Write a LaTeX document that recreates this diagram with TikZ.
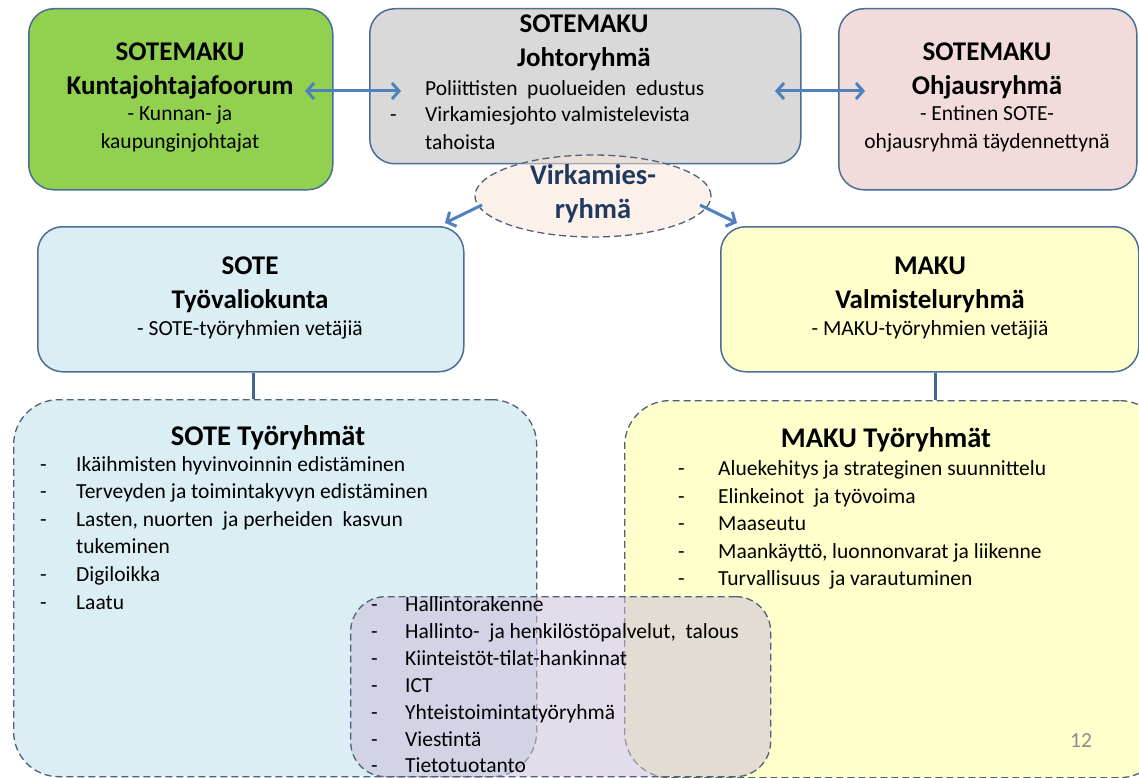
\documentclass[tikz,border=0pt]{standalone}
\usepackage{fontspec}
\setmainfont{Carlito}
\usetikzlibrary{arrows.meta,shapes.geometric}
\definecolor{cgreen}{HTML}{92D050}
\definecolor{cgray}{HTML}{D9D9D9}
\definecolor{cpink}{HTML}{F2DCDB}
\definecolor{cblue}{HTML}{DAEEF3}
\definecolor{cyellow}{HTML}{FFFFCC}
\definecolor{clav}{HTML}{CCC0DA}
\definecolor{cpeach}{HTML}{FBE5D6}
\definecolor{cborder}{HTML}{4A6E98}
\definecolor{cdash}{HTML}{4F6079}
\definecolor{carrow}{HTML}{4F81BD}
\definecolor{cnavy}{HTML}{1F3A60}
\begin{document}
\begin{tikzpicture}[x=1pt,y=-1pt,
  box/.style={draw=cborder, line width=1.5pt, rounded corners=25pt, anchor=north west, inner sep=0pt, shape=rectangle},
  dbox/.style={draw=cdash, line width=1.3pt, dash pattern=on 7pt off 4pt, anchor=north west, inner sep=0pt, shape=rectangle},
  ttl/.style={font=\bfseries\fontsize{27}{31}\selectfont, text height=18pt, text depth=5pt, inner sep=0pt},
  bttl/.style={font=\bfseries\fontsize{28.5}{32}\selectfont, text height=19pt, text depth=5pt, inner sep=0pt},
  txt/.style={font=\fontsize{21.5}{25}\selectfont, text height=15pt, text depth=4pt, inner sep=0pt},
  itm/.style={txt, anchor=west},
  arr/.style={draw=carrow, line width=3pt, {Straight Barb[length=7pt,width=16pt]}-{Straight Barb[length=7pt,width=16pt]}},
  sarr/.style={draw=carrow, line width=3pt, -{Straight Barb[length=7pt,width=16pt]}},
  link/.style={draw=carrow!80!black, line width=3pt}
]
\useasboundingbox (0,0) rectangle (1139,778);
\clip (0,0) rectangle (1139,778);
\fill[white] (0,0) rectangle (1139,778);

% top row
\node[box, fill=cgreen, minimum width=304pt, minimum height=181pt] (green) at (28,8) {};
\node[box, fill=cgray, minimum width=431pt, minimum height=155pt] (gray) at (369,8) {};
\node[box, fill=cpink, minimum width=298pt, minimum height=181pt] (pink) at (838,8) {};

\node[ttl] (g1) at (180,54) {SOTEMAKU};
\node[ttl] (g2) at (180,88) {Kuntajohtajafoorum};
\node[txt] (g3) at (180,115) {- Kunnan- ja};
\node[txt] (g4) at (180,143) {kaupunginjohtajat};

\node[ttl] (j1) at (584,26) {SOTEMAKU};
\node[ttl] (j2) at (584,60) {Johtoryhmä};
\node[itm] (j3) at (425,90) {Poliittisten\ \ puolueiden\ \ edustus};
\node[itm] (j4d) at (390,116) {-};
\node[itm] (j4) at (425,116) {Virkamiesjohto valmistelevista};
\node[itm] (j5) at (425,144) {tahoista};

\node[ttl] (p1) at (987,54) {SOTEMAKU};
\node[ttl] (p2) at (987,88) {Ohjausryhmä};
\node[txt] (p3) at (987,115) {- Entinen SOTE-};
\node[txt] (p4) at (987,143) {ohjausryhmä täydennettynä};

% ellipse
\node[ellipse, draw=cdash, line width=1.3pt, dash pattern=on 7pt off 4pt, fill=cpeach, fill opacity=0.5, text opacity=1, minimum width=236pt, minimum height=82pt, inner sep=0pt] (virk) at (593,196) {};
\node[bttl, text=cnavy] (v1) at (593,178) {Virkamies-};
\node[bttl, text=cnavy] (v2) at (593,211) {ryhmä};

% middle row
\node[box, fill=cblue, minimum width=426pt, minimum height=145pt] (sote) at (37,226) {};
\node[box, fill=cyellow, minimum width=418pt, minimum height=145pt] (maku) at (720,226) {};

\node[ttl] (s1) at (250,268) {SOTE};
\node[ttl] (s2) at (250,302) {Työvaliokunta};
\node[txt] (s3) at (250,330) {- SOTE-työryhmien vetäjiä};

\node[ttl] (m1) at (930,268) {MAKU};
\node[ttl] (m2) at (930,302) {Valmisteluryhmä};
\node[txt] (m3) at (930,330) {- MAKU-työryhmien vetäjiä};

% bottom boxes
\node[dbox, fill=cblue, rounded corners=45pt, minimum width=523pt, minimum height=377pt] (sotetr) at (13,399) {};
\node[dbox, fill=cyellow, rounded corners=45pt, minimum width=540pt, minimum height=377pt] (makutr) at (624,400) {};

% connectors
\coordinate (a1l) at (305,91);
\coordinate (a1r) at (401,91);
\coordinate (a2l) at (775,91);
\coordinate (a2r) at (865,91);
\draw[arr] (a1l) -- (a1r);
\draw[arr] (a2l) -- (a2r);
\coordinate (e1s) at (482,205);
\coordinate (e1t) at (445,223);
\coordinate (e2s) at (700,205);
\coordinate (e2t) at (737,223);
\draw[sarr] (e1s) -- (e1t);
\draw[sarr] (e2s) -- (e2t);
\draw[link] (sote.south -| 253,0) -- (sotetr.north -| 253,0);
\draw[link] (maku.south -| 935,0) -- (makutr.north -| 935,0);

% SOTE tyoryhmat
\node[bttl] (st0) at (268,438) {SOTE Työryhmät};
\foreach \yy/\tt [count=\i] in {466/Ikäihmisten hyvinvoinnin edistäminen, 493/Terveyden ja toimintakyvyn edistäminen, 521/{Lasten, nuorten\ \ ja perheiden\ \ kasvun}, 576/Digiloikka, 604/Laatu}{
  \node[itm] (std\i) at (40,\yy) {-};
  \node[itm] (st\i) at (76,\yy) {\tt};
}
\node[itm] (st6) at (76,548) {tukeminen};

% MAKU tyoryhmat
\node[bttl] (mt0) at (886,440) {MAKU Työryhmät};
\foreach \yy/\tt [count=\i] in {470/Aluekehitys ja strateginen suunnittelu, 498/Elinkeinot\ \ ja työvoima, 525/Maaseutu, 553/{Maankäyttö, luonnonvarat ja liikenne}, 580/Turvallisuus\ \ ja varautuminen}{
  \node[itm] (mtd\i) at (678,\yy) {-};
  \node[itm] (mt\i) at (718,\yy) {\tt};
}
\node[txt, text=black!45] (pg) at (1081,742) {12};

% shared box
\node[dbox, fill=clav, fill opacity=0.55, rounded corners=35pt, minimum width=420pt, minimum height=180pt] (shared) at (350,596) {};
\foreach \yy/\tt [count=\i] in {606/Hallintorakenne, 633/{Hallinto-\ \ ja henkilöstöpalvelut,\ \ talous}, 660/Kiinteistöt-tilat-hankinnat, 687/ICT, 714/Yhteistoimintatyöryhmä, 741/Viestintä, 767/Tietotuotanto}{
  \node[itm] (shd\i) at (371,\yy) {-};
  \node[itm] (sh\i) at (405,\yy) {\tt};
}
\end{tikzpicture}
\end{document}
